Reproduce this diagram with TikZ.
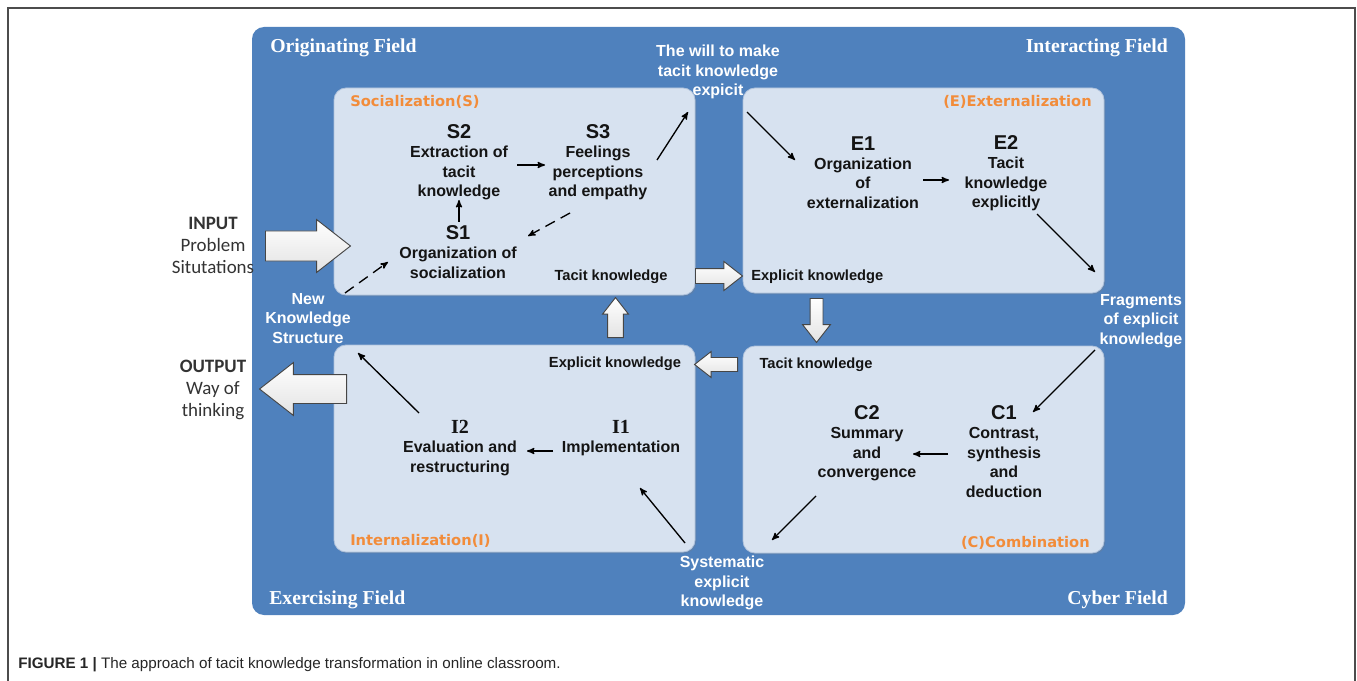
\documentclass[tikz,border=0pt]{standalone}
\usepackage{fontspec}
\setmainfont{Liberation Sans}
\newfontfamily\fieldfont{Liberation Serif}
\newfontfamily\phasefont{DejaVu Sans}
\newfontfamily\iofont{Carlito}
\usetikzlibrary{arrows,shapes.arrows,shadows}
\definecolor{fieldblue}{RGB}{79,129,189}
\definecolor{phasefill}{RGB}{215,226,240}
\definecolor{phaseline}{RGB}{175,194,220}
\definecolor{phaseorange}{RGB}{242,140,58}
\tikzset{
	field/.style = {text=white, inner sep=0, font=\fieldfont\bfseries\fontsize{14.8}{17}\selectfont},
	phase/.style = {draw=phaseline, fill=phasefill, line width=0.6pt, rounded corners=9pt, inner sep=0,
		drop shadow={shadow xshift=1pt, shadow yshift=-1pt, opacity=0.25}},
	phasename/.style = {text=phaseorange, inner sep=0, font=\phasefont\bfseries\fontsize{11}{13}\selectfont},
	stepnode/.style = {align=center, anchor=north, inner sep=0, text=black!92, font=\bfseries\fontsize{12}{14.6}\selectfont},
	know/.style = {inner sep=0, text=black!92, font=\bfseries\fontsize{11}{13}\selectfont},
	flow/.style = {align=center, anchor=north, inner sep=0, text=white, font=\bfseries\fontsize{12}{14.6}\selectfont},
	io/.style = {align=center, anchor=north, inner sep=0, text=black!80, font=\iofont\fontsize{14.2}{16.5}\selectfont},
	blockarrow/.style = {single arrow, anchor=tail, draw=gray!55!black, line width=0.7pt,
		top color=white, bottom color=gray!22, inner xsep=0, single arrow tip angle=76},
	link/.style = {->, line width=1pt}
}
\newcommand{\stephead}[1]{{\fontsize{15}{18}\selectfont #1}}
\newcommand{\serifhead}[1]{{\fieldfont\bfseries\fontsize{15}{18}\selectfont #1}}

\begin{document}
\begin{tikzpicture}[x=0.75pt, y=-0.75pt, >=stealth']
	\useasboundingbox (0,0) rectangle (1357,681);
	% frame and fields
	\draw[gray!60!black, line width=0.9pt] (8,681) -- (8,8) -- (1355,8) -- (1355,681);
	\node[fill=fieldblue, rounded corners=9pt, inner sep=0, minimum width=699.75pt, minimum height=441pt] (panel) at (718.5,321) {};
	\node[field, anchor=base west] (orig) at (270,53) {Originating Field};
	\node[field, anchor=base east] (inter) at (1168,53) {Interacting Field};
	\node[field, anchor=base west] (exer) at (269,604.5) {Exercising Field};
	\node[field, anchor=base east] (cyber) at (1168,604.5) {Cyber Field};

	% the four phases
	\node[phase, minimum width=270.75pt, minimum height=155.25pt] (socbox) at (514.5,191.5) {};
	\node[phase, minimum width=270.75pt, minimum height=153.75pt] (extbox) at (923.5,190.5) {};
	\node[phase, minimum width=270.75pt, minimum height=155.25pt] (intbox) at (514.5,448.5) {};
	\node[phase, minimum width=270.75pt, minimum height=155.25pt] (combox) at (923.5,449.5) {};
	\node[phasename, anchor=base west] (socname) at (350,106.5) {Socialization(S)};
	\node[phasename, anchor=base east] (extname) at (1092,106.5) {(E)Externalization};
	\node[phasename, anchor=base west] (intname) at (350,545.5) {Internalization(I)};
	\node[phasename, anchor=base east] (comname) at (1090,547) {(C)Combination};

	% steps
	\node[stepnode] (s2) at (459,124) {\stephead{S2}\\Extraction of\\tacit\\knowledge};
	\node[stepnode] (s3) at (598,124) {\stephead{S3}\\Feelings\\perceptions\\and empathy};
	\node[stepnode] (s1) at (458,225) {\stephead{S1}\\Organization of\\socialization};
	\node[stepnode] (e1) at (863,136) {\stephead{E1}\\Organization\\of\\externalization};
	\node[stepnode] (e2) at (1006,135) {\stephead{E2}\\Tacit\\knowledge\\explicitly};
	\node[stepnode] (c2) at (867,405) {\stephead{C2}\\Summary\\and\\convergence};
	\node[stepnode] (c1) at (1004,405) {\stephead{C1}\\Contrast,\\synthesis\\and\\deduction};
	\node[stepnode] (i2) at (460,420) {\serifhead{I2}\\Evaluation and\\restructuring};
	\node[stepnode] (i1) at (621,420) {\serifhead{I1}\\Implementation};

	\node[know, anchor=base] (soctacit) at (611,280) {Tacit knowledge};
	\node[know, anchor=base west] (extexpl) at (751,281) {Explicit knowledge};
	\node[know, anchor=base] (intexpl) at (615,367) {Explicit knowledge};
	\node[know, anchor=base] (comtacit) at (816,368) {Tacit knowledge};

	% texts between the phases
	\node[flow] (will) at (718,45) {The will to make\\tacit knowledge\\expicit};
	\node[flow] (frag) at (1141,294) {Fragments\\of explicit\\knowledge};
	\node[flow] (sys) at (722,556) {Systematic\\explicit\\knowledge};
	\node[flow] (newks) at (308,293) {New\\Knowledge\\Structure};
	\node[io] (input) at (213,217) {\textbf{INPUT}\\Problem\\Situtations};
	\node[io] (output) at (213,360) {\textbf{OUTPUT}\\Way of\\thinking};

	% block arrows
	\node[blockarrow, inner ysep=10.9pt, single arrow head extend=8.6pt, minimum height=63.75pt] (inarrow) at (265,246) {};
	\node[blockarrow, rotate=180, inner ysep=10.5pt, single arrow head extend=9pt, minimum height=65.25pt] (outarrow) at (347,389) {};
	\node[blockarrow, inner ysep=5.25pt, single arrow head extend=5.25pt, minimum height=35.25pt] (s2earrow) at (695,276) {};
	\node[blockarrow, rotate=-90, inner ysep=4.5pt, single arrow head extend=5.6pt, minimum height=33pt] (e2carrow) at (816.5,298) {};
	\node[blockarrow, rotate=180, inner ysep=4.9pt, single arrow head extend=4.5pt, minimum height=32.25pt] (c2iarrow) at (738,364.5) {};
	\node[blockarrow, rotate=90, inner ysep=5.6pt, single arrow head extend=3.75pt, minimum height=30pt] (i2sarrow) at (615.5,338) {};

	% links
	\draw[link] ([shift={(1,-3)}]s1.north) -- ([shift={(0,76)}]s2.north);
	\draw[link] ([shift={(58,41)}]s2.north) -- ([shift={(-53,41)}]s3.north);
	\draw[link, dash pattern=on 8pt off 5pt] ([shift={(-28,89)}]s3.north) -- ([shift={(70,11)}]s1.north);
	\draw[link, dash pattern=on 8pt off 5pt] ([shift={(37,0)}]newks.north) -- ([shift={(-70,37)}]s1.north);
	\draw[link] ([shift={(59,36)}]s3.north) -- ([shift={(-30,67)}]will.north);
	\draw[link] ([shift={(29,67)}]will.north) -- ([shift={(-68,24)}]e1.north);
	\draw[link] ([shift={(60,44)}]e1.north) -- ([shift={(-57,45)}]e2.north);
	\draw[link] ([shift={(31,79)}]e2.north) -- ([shift={(-46,-22)}]frag.north);
	\draw[link] ([shift={(-46,56)}]frag.north) -- ([shift={(29,7)}]c1.north);
	\draw[link] ([shift={(-56,49)}]c1.north) -- ([shift={(46,49)}]c2.north);
	\draw[link] ([shift={(-51,91)}]c2.north) -- ([shift={(50,-16)}]sys.north);
	\draw[link] ([shift={(-37,-13)}]sys.north) -- ([shift={(19,68)}]i1.north);
	\draw[link] ([shift={(-68,31)}]i1.north) -- ([shift={(67,31)}]i2.north);
	\draw[link] ([shift={(-41,-7)}]i2.north) -- ([shift={(50,60)}]newks.north);

	\node[anchor=base west, inner sep=0, text=black!85, font=\fontsize{11.4}{13}\selectfont] (caption) at (18,668.5)
		{\textbf{FIGURE 1 |} The approach of tacit knowledge transformation in online classroom.};
\end{tikzpicture}
\end{document}
